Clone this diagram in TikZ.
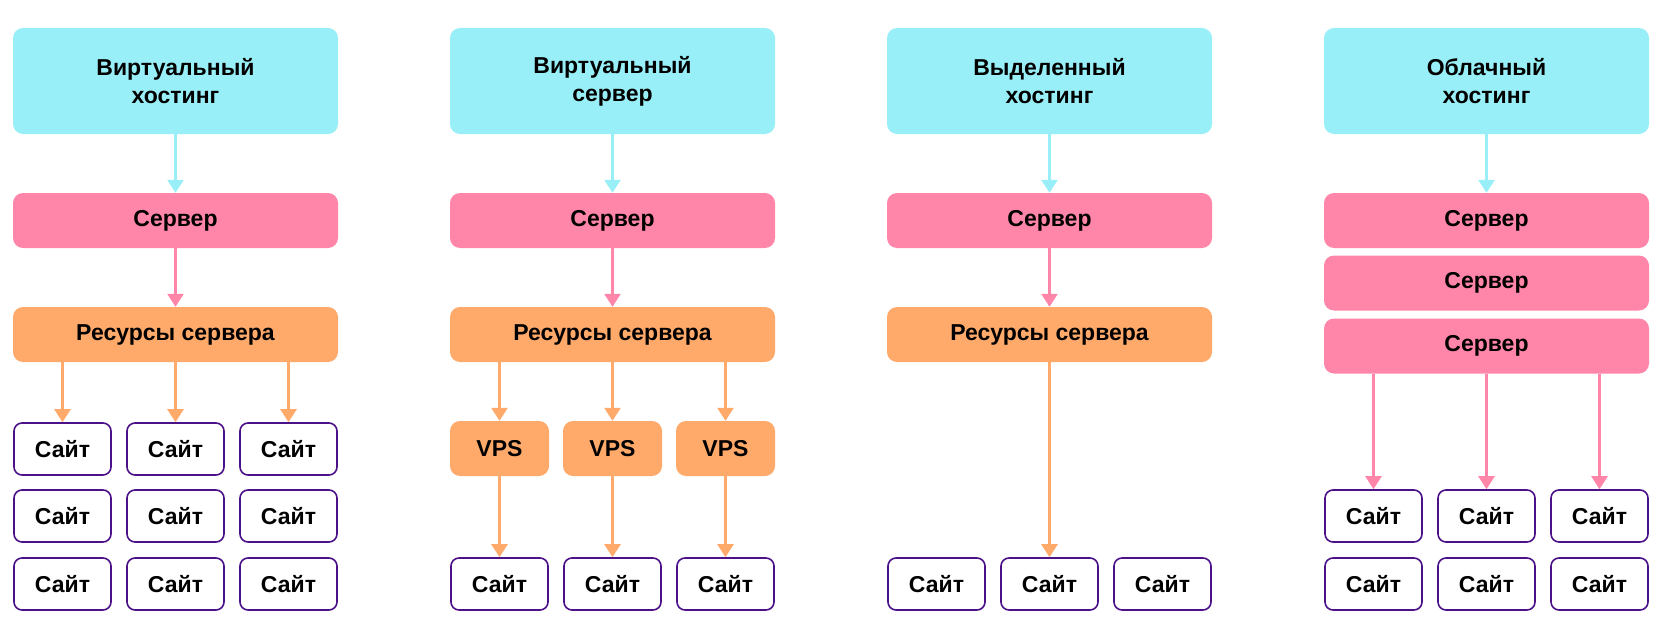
\documentclass[tikz,border=0pt]{standalone}
\usepackage{fontspec}
\setmainfont{Liberation Sans}
\usepackage{tikz}
\usetikzlibrary{arrows.meta}

\definecolor{hcyan}{HTML}{99EFF7}
\definecolor{hpink}{HTML}{FF86A9}
\definecolor{horange}{HTML}{FFAA6B}
\definecolor{hpurple}{HTML}{4A1188}

\tikzset{
    box/.style = {rectangle, rounded corners = 10pt, inner sep = 0pt, align = center,
                  font = \fontsize{23}{28}\selectfont\bfseries, text = black},
    head/.style = {box, fill = hcyan, minimum width = 325pt, minimum height = 106pt},
    srv/.style = {box, fill = hpink, minimum width = 325pt, minimum height = 55pt},
    res/.style = {box, fill = horange, minimum width = 325pt, minimum height = 55pt},
    vps/.style = {box, fill = horange, minimum width = 99pt, minimum height = 55pt},
    site/.style = {box, draw = hpurple, line width = 1.6pt, fill = white, rounded corners = 8pt,
                   minimum width = 97pt, minimum height = 52pt},
    arr/.style = {line width = 2.6pt, -{Triangle[width = 16pt, length = 13pt]}},
    carr/.style = {arr, hcyan},
    parr/.style = {arr, hpink},
    oarr/.style = {arr, horange}
}

\begin{document}
\begin{tikzpicture}[x = 1pt, y = -1pt]
    \useasboundingbox (0,0) rectangle (1663,642);

    % column 1
    \node (h1)[head] at (175.5,81) {Виртуальный\\хостинг};
    \node (s1)[srv] at (175.5,220.5) {Сервер};
    \node (r1)[res] at (175.5,334.5) {Ресурсы сервера};
    \foreach \i/\x in {a/62.5, b/175.5, c/288.5} {
        \node (t1\i1)[site] at (\x,449) {Сайт};
        \node (t1\i2)[site] at (\x,516) {Сайт};
        \node (t1\i3)[site] at (\x,584) {Сайт};
        \draw[oarr] (r1.south -| t1\i1.north) -- (t1\i1.north);
    }
    \draw[carr] (h1) -- (s1);
    \draw[parr] (s1) -- (r1);

    % column 2
    \node (h2)[head] at (612.5,81) {Виртуальный\\сервер};
    \node (s2)[srv] at (612.5,220.5) {Сервер};
    \node (r2)[res] at (612.5,334.5) {Ресурсы сервера};
    \foreach \i/\x in {a/499.5, b/612.5, c/725.5} {
        \node (v2\i)[vps] at (\x,448.5) {VPS};
        \node (t2\i)[site] at (\x,584) {Сайт};
        \draw[oarr] (r2.south -| v2\i.north) -- (v2\i.north);
        \draw[oarr] (v2\i) -- (t2\i);
    }
    \draw[carr] (h2) -- (s2);
    \draw[parr] (s2) -- (r2);

    % column 3
    \node (h3)[head] at (1049.5,81) {Выделенный\\хостинг};
    \node (s3)[srv] at (1049.5,220.5) {Сервер};
    \node (r3)[res] at (1049.5,334.5) {Ресурсы сервера};
    \node (t3a)[site] at (936.5,584) {Сайт};
    \node (t3b)[site] at (1049.5,584) {Сайт};
    \node (t3c)[site] at (1162.5,584) {Сайт};
    \draw[carr] (h3) -- (s3);
    \draw[parr] (s3) -- (r3);
    \draw[oarr] (r3) -- (t3b);

    % column 4
    \node (h4)[head] at (1486.5,81) {Облачный\\хостинг};
    \node (s4a)[srv] at (1486.5,220.5) {Сервер};
    \node (s4b)[srv] at (1486.5,283) {Сервер};
    \node (s4c)[srv] at (1486.5,346) {Сервер};
    \foreach \i/\x in {a/1373.5, b/1486.5, c/1599.5} {
        \node (t4\i1)[site] at (\x,516) {Сайт};
        \node (t4\i2)[site] at (\x,584) {Сайт};
        \draw[parr] (s4c.south -| t4\i1.north) -- (t4\i1.north);
    }
    \draw[carr] (h4) -- (s4a);
\end{tikzpicture}
\end{document}
